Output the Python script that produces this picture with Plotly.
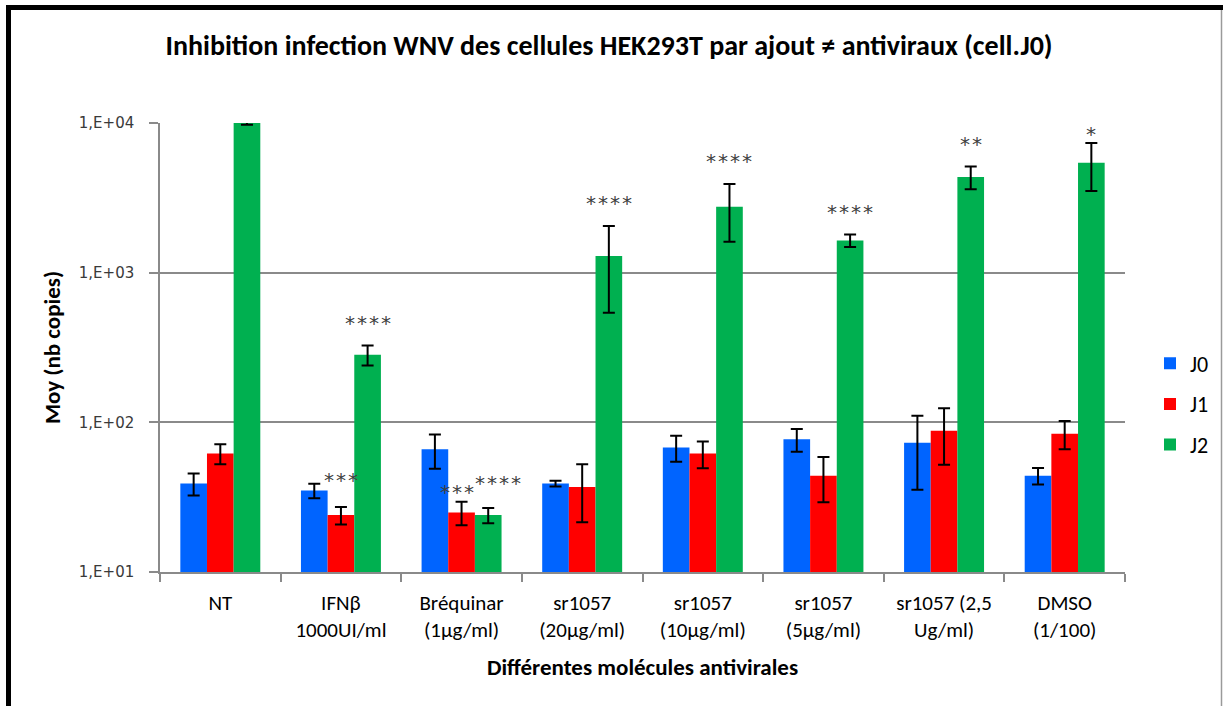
import plotly.graph_objects as go
import math

# ---- data -------------------------------------------------------------
categories = [
    "NT",
    "IFNβ<br>1000UI/ml",
    "Bréquinar<br>(1µg/ml)",
    "sr1057<br>(20µg/ml)",
    "sr1057<br>(10µg/ml)",
    "sr1057<br>(5µg/ml)",
    "sr1057 (2,5<br>Ug/ml)",
    "DMSO<br>(1/100)",
]
series_names = ["J0", "J1", "J2"]

j0_mean = [39, 35, 66, 39, 68, 77, 73, 44]
j0_err = [6.5, 3.9, 17, 1.7, 13.5, 13.3, 37.5, 5.5]
j1_mean = [62, 24, 25, 37, 62, 44, 88, 84]
j1_err = [9.5, 3.2, 4.5, 15.5, 12.6, 14.7, 36, 18]
j2_mean = [10000, 283, 24, 1294, 2760, 1640, 4360, 5430]
j2_err = [250, 43, 2.8, 755, 1150, 157, 755, 1920]

j0_sig = ["", "", "", "", "", "", "", ""]
j1_sig = ["", "***", "***", "", "", "", "", ""]
j2_sig = ["", "****", "****", "****", "****", "****", "**", "*"]

y_tickvals = [10, 100, 1000, 10000]
y_ticktext = ["1,E+01", "1,E+02", "1,E+03", "1,E+04"]

# ---- layout geometry ----------------------------------------------------
FIG_W, FIG_H = 1223, 706
M_L, M_R, M_T, M_B = 160, 98, 123, 134
PLOT_W = FIG_W - M_L - M_R
PLOT_H = FIG_H - M_T - M_B
BARGAP = 0.337

colors = ["#0064FF", "#FF0000", "#00B050"]
means = [j0_mean, j1_mean, j2_mean]
errs = [j0_err, j1_err, j2_err]
sigs = [j0_sig, j1_sig, j2_sig]

CALIBRI = "Carlito, Calibri, Lato, sans-serif"
GRID = "#8a8a8a"


def paper_x(px):
    return (px - M_L) / PLOT_W


def paper_y(py):
    return (FIG_H - M_B - py) / PLOT_H


fig = go.Figure()
for name, col, m, e in zip(series_names, colors, means, errs):
    fig.add_trace(go.Bar(
        name=name,
        x=categories,
        y=m,
        marker=dict(color=col, line=dict(width=0)),
        error_y=dict(type="data", array=e, visible=True,
                     color="black", thickness=2, width=6),
        legendgroup=name,
    ))

# significance stars above the error bars
group_px = PLOT_W / len(categories)
bar_px = group_px * (1 - BARGAP) / len(series_names)
# per-label nudges (dx, dy) in px relative to the default placement
nudges = {(1, 2): (-5, -13), (2, 2): (10, 2), (2, 7): (0, -14), (1, 1): (0, 4)}
DEFAULT_GAP = 27
annotations = []
for s, (m, e, sg) in enumerate(zip(means, errs, sigs)):
    for i, label in enumerate(sg):
        if not label:
            continue
        dx, dy = nudges.get((s, i), (0, 0))
        annotations.append(dict(
            x=categories[i], y=math.log10(m[i] + e[i]),
            xref="x", yref="y", text=label, showarrow=False,
            xanchor="center", yanchor="middle",
            xshift=(s - 1) * bar_px + dx,
            yshift=DEFAULT_GAP + dy - 4,
            font=dict(family="DejaVu Sans Mono", size=20, color="#404040"),
        ))

# frame around the chart: heavy black on top/left, thin grey on the right
shapes = [
    dict(type="rect", xref="paper", yref="paper",
         x0=paper_x(6), x1=paper_x(11), y0=paper_y(FIG_H), y1=paper_y(5),
         fillcolor="black", line=dict(width=0)),
    dict(type="rect", xref="paper", yref="paper",
         x0=paper_x(6), x1=paper_x(FIG_W), y0=paper_y(10), y1=paper_y(5),
         fillcolor="black", line=dict(width=0)),
    dict(type="line", xref="paper", yref="paper",
         x0=paper_x(1221.5), x1=paper_x(1221.5), y0=paper_y(FIG_H), y1=paper_y(10),
         line=dict(color="#9a9a9a", width=1.5)),
]

fig.update_layout(
    template="none",
    width=FIG_W, height=FIG_H,
    margin=dict(l=M_L, r=M_R, t=M_T, b=M_B, autoexpand=False),
    paper_bgcolor="white", plot_bgcolor="white",
    barmode="group", bargap=BARGAP, bargroupgap=0,
    title=dict(
        text="Inhibition infection WNV des cellules HEK293T par ajout ≠ antiviraux (cell.J0)",
        x=0.498, xref="container", xanchor="center",
        y=1 - 45 / FIG_H, yref="container", yanchor="middle",
        font=dict(family=CALIBRI, size=28, color="black", weight="bold"),
    ),
    xaxis=dict(
        type="category", automargin=False,
        showline=True, linecolor=GRID, linewidth=1.5,
        ticks="outside", tickson="boundaries", ticklen=8, tickcolor=GRID, tickwidth=1.5,
        showgrid=False, ticklabelstandoff=11,
        tickfont=dict(family=CALIBRI, size=21, color="black"),
        title=dict(text="<b>Différentes molécules antivirales</b>", standoff=17,
                   font=dict(family=CALIBRI, size=23, color="black")),
    ),
    yaxis=dict(
        type="log", range=[1, 4], automargin=False,
        tickvals=y_tickvals, ticktext=y_ticktext,
        showline=True, linecolor=GRID, linewidth=1.5,
        ticks="outside", ticklen=9, tickcolor=GRID, tickwidth=1.5,
        showgrid=True, gridcolor=GRID, gridwidth=1.5, zeroline=False,
        ticklabelstandoff=12,
        tickfont=dict(family="DejaVu Sans", size=15, color="#3a3a3a"),
        title=dict(text="<b>Moy (nb copies)</b>", standoff=12,
                   font=dict(family=CALIBRI, size=23, color="black")),
    ),
    legend=dict(
        x=paper_x(1150), xanchor="left", y=paper_y(404), yanchor="middle",
        font=dict(family=CALIBRI, size=22, color="black"),
        tracegroupgap=9, bgcolor="rgba(0,0,0,0)", borderwidth=0,
        itemwidth=30,
    ),
    annotations=annotations,
    shapes=shapes,
    showlegend=True,
)

fig.write_html("out.html")
